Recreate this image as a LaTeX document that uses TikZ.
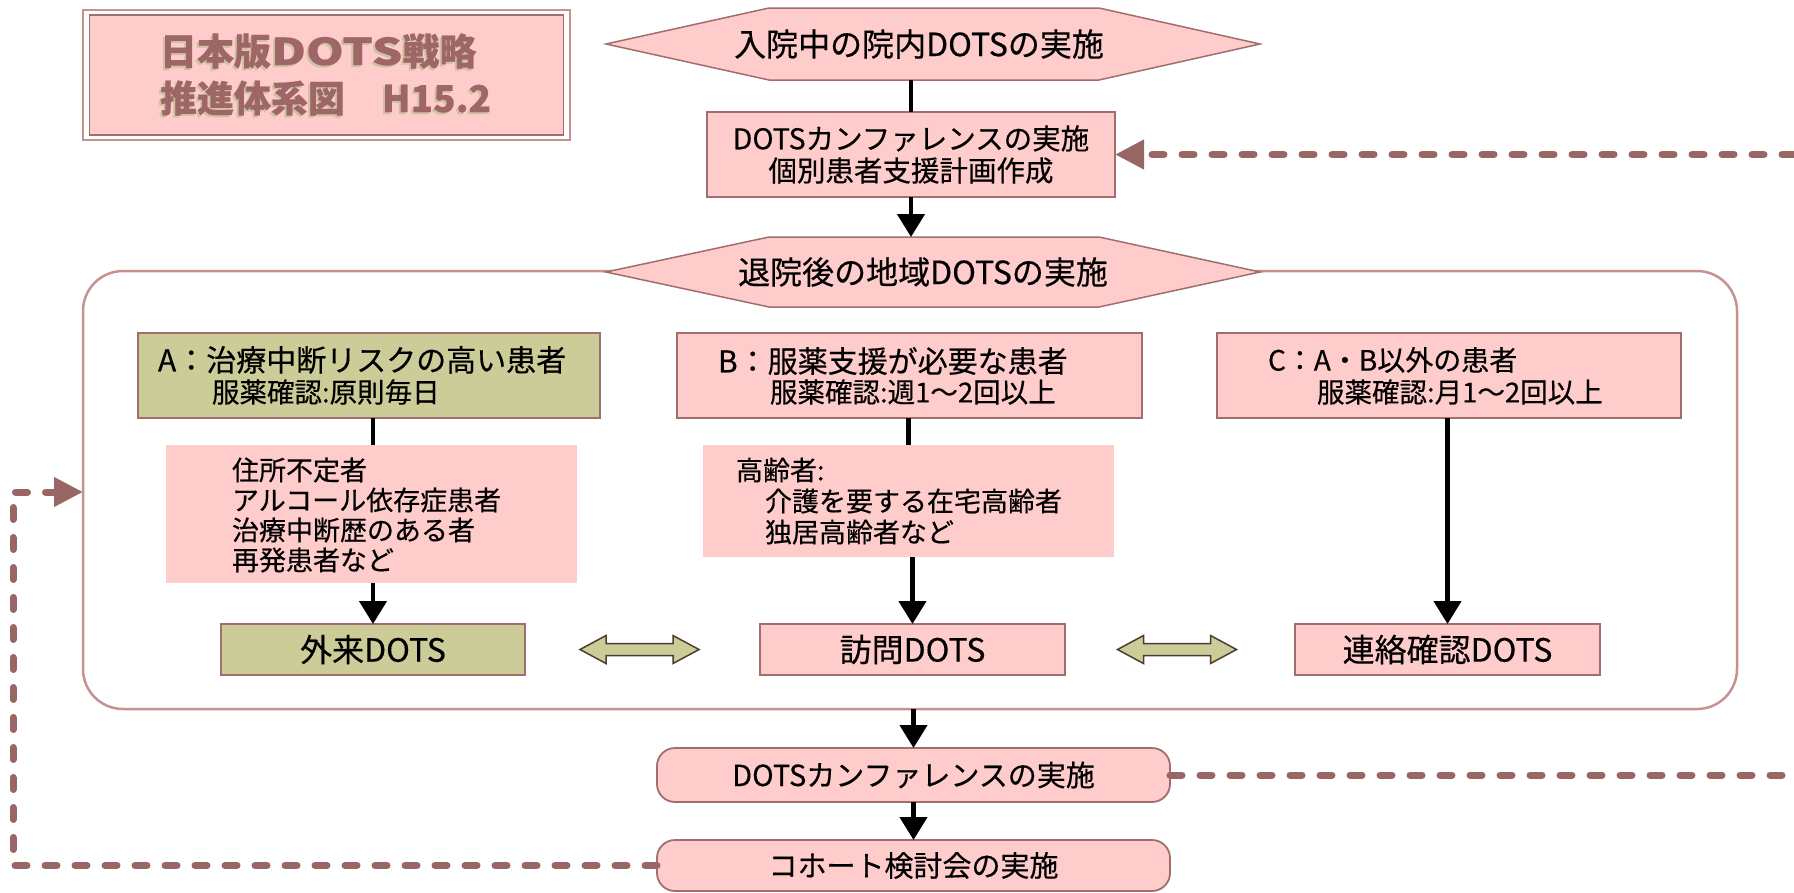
\documentclass[tikz,border=0pt]{standalone}
\usepackage{fontspec}
\usepackage{graphicx}
\setmainfont{Noto Sans CJK JP}[FakeBold=0.4]
\usetikzlibrary{arrows.meta,calc}
\definecolor{pinkf}{RGB}{255,204,204}
\definecolor{olivef}{RGB}{204,204,153}
\definecolor{bord}{RGB}{160,110,110}
\definecolor{dashc}{RGB}{153,102,102}
\definecolor{contb}{RGB}{200,145,145}
\definecolor{titlec}{RGB}{158,102,102}
\definecolor{shadowc}{RGB}{205,195,160}
\definecolor{arrb}{RGB}{80,60,50}
\newcommand\szHex{\fontsize{32}{36}\selectfont}
\newcommand\szBox{\fontsize{28.5}{32}\selectfont}
\newcommand\szCat{\fontsize{30}{34}\selectfont}
\newcommand\szCatC{\fontsize{28}{32}\selectfont}
\newcommand\szSub{\fontsize{27.5}{31}\selectfont}
\newcommand\szDetA{\fontsize{27}{30}\selectfont}
\newcommand\szDetB{\fontsize{27}{31}\selectfont}
\newcommand\szBot{\fontsize{32}{36}\selectfont}
\newcommand\szLow{\fontsize{29}{33}\selectfont}
\newcommand\szTitle{\fontsize{37}{40}\selectfont\bfseries}
\newcommand\wideDOTS{\scalebox{1.3}[1]{DOTS}}
\begin{document}
\begin{tikzpicture}[x=1pt,y=-1pt,
 pbox/.style={draw=bord,line width=1.8pt,fill=pinkf,inner sep=0pt,outer sep=0pt},
 obox/.style={pbox,fill=olivef},
 plainbox/.style={fill=pinkf,inner sep=0pt,outer sep=0pt},
 rbox/.style={pbox,rounded corners=18pt},
 hexn/.style={inner sep=0pt,outer sep=0pt},
 hexs/.style={draw=bord,line width=1.5pt,fill=pinkf,line join=miter},
 ltxt/.style={inner sep=0pt,outer sep=0pt,anchor=west},
 ctxt/.style={inner sep=0pt,outer sep=0pt,align=center},
 flow/.style={line width=4.5pt,draw=black},
 flowarr/.style={flow,-{Triangle[width=27pt,length=23pt]}},
 dashln/.style={draw=dashc,line width=7pt,line cap=round,dash pattern=on 12pt off 18pt},
 dasharr/.style={dashln,-{Triangle[width=28pt,length=29pt]}},
 dblarr/.pic={\draw[draw=arrb,line width=1.5pt,fill=olivef,line join=miter]
   (-59.5,0) -- (-33.5,-14) -- (-33.5,-6) -- (33.5,-6) -- (33.5,-14) -- (59.5,0)
   -- (33.5,14) -- (33.5,6) -- (-33.5,6) -- (-33.5,14) -- cycle;}
]
\useasboundingbox[fill=white] (0,0) rectangle (1794,892);

% title box
\node[draw=contb,line width=2pt,minimum width=487,minimum height=130,inner sep=0pt] (title) at (326.5,75) {};
\node[pbox,minimum width=474,minimum height=120] (titlein) at (title.center) {};
\node[ltxt,text=shadowc,font=\szTitle] (t1s) at (158,53) {日本版\wideDOTS 戦略};
\node[ltxt,text=titlec,font=\szTitle] (t1) at (160,51) {日本版\wideDOTS 戦略};
\node[ltxt,text=shadowc,font=\szTitle] (t2s) at (158,100) {推進体系図　H15.2};
\node[ltxt,text=titlec,font=\szTitle] (t2) at (160,98) {推進体系図　H15.2};

% hexagon 1
\node[hexn,minimum width=654,minimum height=72] (hex1) at (933,44) {};
\draw[hexs] (hex1.west) -- ($(hex1.north west)+(163,0)$) -- ($(hex1.north east)+(-161,0)$) -- (hex1.east)
  -- ($(hex1.south east)+(-161,0)$) -- ($(hex1.south west)+(163,0)$) -- cycle;
\node[ctxt,font=\szHex] (hex1t) at ($(hex1.center)+(-14,0)$) {入院中の院内DOTSの実施};

% conference box 1
\node[pbox,minimum width=408,minimum height=85,align=center,font=\szBox] (conf1) at (911,154.5)
  {DOTSカンファレンスの実施\\個別患者支援計画作成};

% container
\node[draw=contb,line width=2.5pt,rounded corners=40pt,minimum width=1654,minimum height=438,inner sep=0pt,outer sep=0pt] (cont) at (910,490) {};

% hexagon 2
\node[hexn,minimum width=654,minimum height=70] (hex2) at (933,272) {};
\draw[hexs] (hex2.west) -- ($(hex2.north west)+(163,0)$) -- ($(hex2.north east)+(-161,0)$) -- (hex2.east)
  -- ($(hex2.south east)+(-161,0)$) -- ($(hex2.south west)+(163,0)$) -- cycle;
\node[ctxt,font=\szHex] (hex2t) at ($(hex2.center)+(-10,0)$) {退院後の地域DOTSの実施};

% category boxes
\node[obox,minimum width=462,minimum height=85] (Abox) at (369,375.5) {};
\node[pbox,minimum width=465,minimum height=85] (Bbox) at (909.5,375.5) {};
\node[pbox,minimum width=464,minimum height=85] (Cbox) at (1449,375.5) {};
\node[ltxt,font=\szCat] (Aa) at (158,360) {A：治療中断リスクの高い患者};
\node[ltxt,font=\szSub] (Ab) at (212,392) {服薬確認:原則毎日};
\node[ltxt,font=\szCat] (Ba) at (718,361) {B：服薬支援が必要な患者};
\node[ltxt,font=\szSub] (Bb) at (770,392) {服薬確認:週1〜2回以上};
\node[ltxt,font=\szCatC] (Ca) at (1268,360) {C：A・B以外の患者};
\node[ltxt,font=\szSub] (Cb) at (1317,392) {服薬確認:月1〜2回以上};

% detail boxes
\node[plainbox,minimum width=411,minimum height=138] (Adet) at (371.5,514) {};
\node[ltxt,align=left,font=\szDetA] (Adt) at (232,515) {住所不定者\\アルコール依存症患者\\治療中断歴のある者\\再発患者など};
\node[plainbox,minimum width=411,minimum height=112] (Bdet) at (908.5,501) {};
\node[ltxt,align=left,font=\szDetB] (Bdt) at (736,501) {高齢者:\\\hspace*{29pt}介護を要する在宅高齢者\\\hspace*{29pt}独居高齢者など};

% DOTS type boxes
\node[obox,minimum width=304,minimum height=51,font=\szBot] (gaiko) at (373,649.5) {外来DOTS};
\node[pbox,minimum width=305,minimum height=51,font=\szBot] (houmon) at (912.5,649.5) {訪問DOTS};
\node[pbox,minimum width=305,minimum height=51,font=\szBot] (renraku) at (1447.5,649.5) {連絡確認DOTS};
\pic at ($(gaiko.east)!0.5!(houmon.west)+(-3,0)$) {dblarr};
\pic at ($(houmon.east)!0.5!(renraku.west)+(-3,0)$) {dblarr};

% lower boxes
\node[rbox,minimum width=513,minimum height=54,font=\szLow] (conf2) at (913.5,775) {DOTSカンファレンスの実施};
\node[rbox,minimum width=513,minimum height=51,font=\szLow] (cohort) at (913.5,865.5) {コホート検討会の実施};

% flow connectors
\draw[flow] (gaiko.north |- Abox.south) -- (gaiko.north |- Adet.north);
\draw[flow] (conf1.north |- hex1.south) -- (conf1.north);
\draw[flowarr] (conf1.south) -- (conf1.south |- hex2.north);
\draw[flowarr] (gaiko.north |- Adet.south) -- (gaiko.north);
\draw[flow] (Bdet.north |- Bbox.south) -- (Bdet.north);
\draw[flowarr] (houmon.north |- Bdet.south) -- (houmon.north);
\draw[flowarr] (renraku.north |- Cbox.south) -- (renraku.north);
\draw[flowarr] (conf2.north |- cont.south) -- (conf2.north);
\draw[flowarr] (conf2.south) -- (cohort.north);

% dashed feedback lines
\coordinate (redge) at (1794,0);
\coordinate (lp) at (13,492);
\draw[dasharr] (redge |- conf1.east) -- (conf1.east);
\draw[dashln] (conf2.east) -- (redge |- conf2.east);
\draw[dasharr] (cohort.west) -| (lp) -- (lp -| cont.west);
\end{tikzpicture}
\end{document}
